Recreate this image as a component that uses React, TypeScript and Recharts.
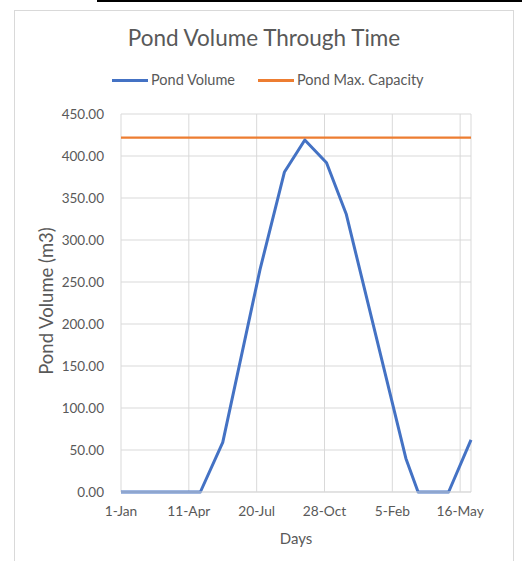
import React from 'react';
import { LineChart, Line, XAxis, YAxis, CartesianGrid } from 'recharts';

// days since 1-Jan and pond volume (m3)
const volumeDays = [0, 117, 150, 205, 241, 271, 303, 332, 420, 438, 483, 516];
const volumeValues = [0, 0, 59, 265, 381, 419, 392, 331, 40, 0, 0, 62];

const capacityDays = [0, 516];
const capacityValues = [422, 422];

const xTicks = [0, 100, 200, 300, 400, 500];
const xTickLabels = ['1-Jan', '11-Apr', '20-Jul', '28-Oct', '5-Feb', '16-May'];
const yTicks = [0, 50, 100, 150, 200, 250, 300, 350, 400, 450];

const volumeData = volumeDays.map((d, i) => ({ day: d, value: volumeValues[i] }));
const capacityData = capacityDays.map((d, i) => ({ day: d, value: capacityValues[i] }));

const FONT = 'Lato, "Open Sans", sans-serif';
const TEXT = '#595959';

export default function App() {
  return (
    <div
      style={{
        position: 'absolute',
        left: 0,
        top: 0,
        width: 522,
        height: 561,
        background: '#fff',
        overflow: 'hidden',
        fontFamily: FONT,
      }}
    >
      {/* black rule at the very top */}
      <div style={{ position: 'absolute', left: 97, top: 0, width: 425, height: 2, background: '#000' }} />
      {/* chart border */}
      <div
        style={{
          position: 'absolute',
          left: 14,
          top: 10,
          width: 498,
          height: 600,
          border: '1px solid #d9d9d9',
        }}
      />

      {/* title */}
      <div
        style={{
          position: 'absolute',
          left: 0,
          width: 528,
          top: 24,
          textAlign: 'center',
          fontSize: 22.5,
          color: TEXT,
          whiteSpace: 'nowrap',
        }}
      >
        Pond Volume Through Time
      </div>

      {/* legend */}
      <div style={{ position: 'absolute', left: 112, top: 79, width: 36, height: 3, background: '#4472C4' }} />
      <div style={{ position: 'absolute', left: 151, top: 70.5, fontSize: 14.5, color: TEXT, whiteSpace: 'nowrap' }}>
        Pond Volume
      </div>
      <div style={{ position: 'absolute', left: 258, top: 79, width: 36, height: 3, background: '#ED7D31' }} />
      <div style={{ position: 'absolute', left: 297, top: 70.5, fontSize: 14.5, color: TEXT, whiteSpace: 'nowrap' }}>
        Pond Max. Capacity
      </div>

      <div style={{ position: 'absolute', left: 0, top: 0 }}>
        <LineChart width={522} height={561} margin={{ top: 114, right: 51, bottom: 0, left: 0 }}>
          <CartesianGrid stroke="#d9d9d9" strokeWidth={1} />
          <XAxis
            type="number"
            dataKey="day"
            domain={[0, 516]}
            ticks={xTicks}
            tickFormatter={(v: number) => xTickLabels[xTicks.indexOf(v)] ?? ''}
            height={69}
            tickSize={0}
            tickMargin={14}
            axisLine={{ stroke: '#d9d9d9' }}
            tick={{ fill: TEXT, fontSize: 13.75, fontFamily: FONT }}
            allowDuplicatedCategory={false}
          />
          <YAxis
            type="number"
            domain={[0, 450]}
            ticks={yTicks}
            tickFormatter={(v: number) => v.toFixed(2)}
            width={121}
            tickSize={0}
            tickMargin={17}
            axisLine={false}
            tick={{ fill: TEXT, fontSize: 13.5, fontFamily: FONT }}
          />
          <Line
            data={capacityData}
            dataKey="value"
            stroke="#ED7D31"
            strokeWidth={2.25}
            dot={false}
            isAnimationActive={false}
          />
          <Line
            data={volumeData}
            dataKey="value"
            stroke="#4472C4"
            strokeWidth={3}
            dot={false}
            strokeLinejoin="round"
            isAnimationActive={false}
          />
        </LineChart>
      </div>

      {/* axis titles */}
      <div
        style={{
          position: 'absolute',
          left: 296,
          top: 538,
          transform: 'translate(-50%, -50%)',
          fontSize: 15,
          color: TEXT,
          whiteSpace: 'nowrap',
        }}
      >
        Days
      </div>
      <div
        style={{
          position: 'absolute',
          left: 46,
          top: 301,
          transform: 'translate(-50%, -50%) rotate(-90deg)',
          fontSize: 18.5,
          color: TEXT,
          whiteSpace: 'nowrap',
        }}
      >
        Pond Volume (m3)
      </div>
    </div>
  );
}
